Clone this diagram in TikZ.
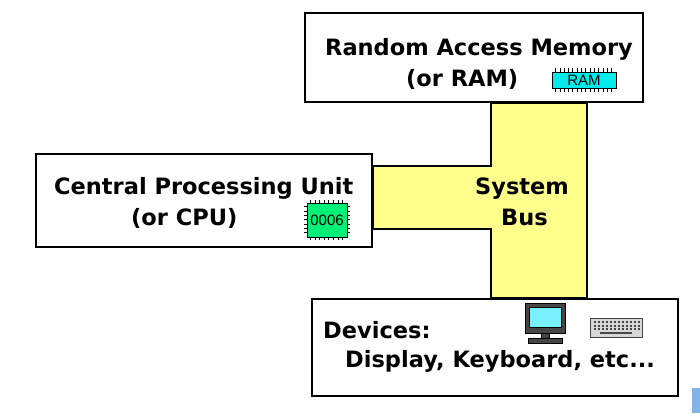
\documentclass[tikz,border=0pt]{standalone}
\usepackage{fontspec}
\setmainfont{DejaVu Sans}
\newfontfamily\chipfont{Liberation Sans}
\usepackage{tikz}
\usepackage{xcolor}
\usetikzlibrary{backgrounds}
\definecolor{busyellow}{RGB}{255,255,140}
\definecolor{ramcyan}{RGB}{0,235,235}
\definecolor{cpugreen}{RGB}{0,240,120}
\definecolor{screencyan}{RGB}{120,240,255}
\definecolor{keygrey}{RGB}{215,215,215}
\definecolor{framegrey}{RGB}{70,70,70}
\definecolor{cornerblue}{RGB}{130,180,230}

\begin{document}
\begin{tikzpicture}
  [x=1pt,y=-1pt,
   box/.style={draw=black,line width=1.6pt,fill=white,inner sep=0pt},
   boxtext/.style={font=\fontsize{22.5}{27}\bfseries\selectfont,inner sep=0pt,anchor=base west},
   bus/.style={draw=black,line width=1.6pt,fill=busyellow},
   chip/.style={draw=black,line width=0.8pt,inner sep=0pt,font=\chipfont\fontsize{15}{16}\selectfont},
   chippin/.style={line width=0.8pt}]

  \useasboundingbox (0,0) rectangle (700,413);

  \node[box,minimum width=338pt,minimum height=89pt] (ram) at (474,57.5) {};
  \node[box,minimum width=336pt,minimum height=93pt] (cpu) at (204,200.5) {};
  \node[box,minimum width=366pt,minimum height=97pt] (dev) at (495,347.5) {};

  \coordinate (busl) at (491,0);
  \coordinate (busr) at (587,0);
  \begin{scope}[on background layer]
    \fill[white] (0,0) rectangle (700,413);
    \draw[bus] (busl |- ram.south) -- (busr |- ram.south) -- (busr |- dev.north)
      -- (busl |- dev.north) -- (busl |- 0,229) -- (cpu.east |- 0,229)
      -- (cpu.east |- 0,166) -- (busl |- 0,166) -- cycle;
  \end{scope}

  \node[boxtext] (ramtop) at (325,55) {Random Access Memory};
  \node[boxtext] (ramsub) at (406,86) {(or RAM)};
  \node[boxtext] (cputop) at (54,194) {Central Processing Unit};
  \node[boxtext] (cpusub) at (131,225) {(or CPU)};
  \node[boxtext] (bustop) at (475,194) {System};
  \node[boxtext] (bussub) at (501,225) {Bus};
  \node[boxtext] (devtop) at (323,338) {Devices:};
  \node[boxtext] (devsub) at (345,367) {Display, Keyboard, etc...};

  \node[chip,fill=ramcyan,minimum width=64pt,minimum height=16pt] (ramchip) at (584,80) {RAM};
  \foreach \i in {0,...,13} {
    \draw[chippin] ([xshift=4pt+\i*4.3pt]ramchip.north west) -- ++(0,-4);
    \draw[chippin] ([xshift=4pt+\i*4.3pt]ramchip.south west) -- ++(0,4);
  }

  \node[chip,fill=cpugreen,minimum width=40pt,minimum height=34pt] (cpuchip) at (327,220) {0006};
  \foreach \i in {0,...,7} {
    \draw[chippin] ([xshift=4pt+\i*4.57pt]cpuchip.north west) -- ++(0,-3);
    \draw[chippin] ([xshift=4pt+\i*4.57pt]cpuchip.south west) -- ++(0,3);
  }
  \foreach \i in {0,...,6} {
    \draw[chippin] ([yshift=-4pt-\i*4.33pt]cpuchip.north west) -- ++(-3,0);
    \draw[chippin] ([yshift=-4pt-\i*4.33pt]cpuchip.north east) -- ++(3,0);
  }

  \node[draw=black,fill=framegrey,line width=0.8pt,inner sep=0pt,minimum width=40pt,minimum height=30pt] (monitor) at (545,318) {};
  \node[draw=black,fill=screencyan,line width=0.6pt,inner sep=0pt,minimum width=32pt,minimum height=20pt] (screen) at (545,317) {};
  \draw[fill=framegrey,line width=0.6pt] ([xshift=-4pt]monitor.south) rectangle ++(8,5);
  \draw[fill=framegrey,line width=0.6pt] ([xshift=-17pt,yshift=-5pt]monitor.south) rectangle ++(34,5);

  \node[draw=framegrey,fill=keygrey,line width=0.8pt,inner sep=0pt,minimum width=52pt,minimum height=19pt] (keyboard) at (616,327.5) {};
  \foreach \r in {0,1,2}
    \foreach \c in {0,...,11}
      \fill[framegrey] (593.5+\c*4,321+\r*3.6) rectangle ++(2,2);
  \fill[framegrey] (600,332) rectangle (632,334);

  \fill[cornerblue] (692,388) rectangle (700,413);

\end{tikzpicture}
\end{document}
